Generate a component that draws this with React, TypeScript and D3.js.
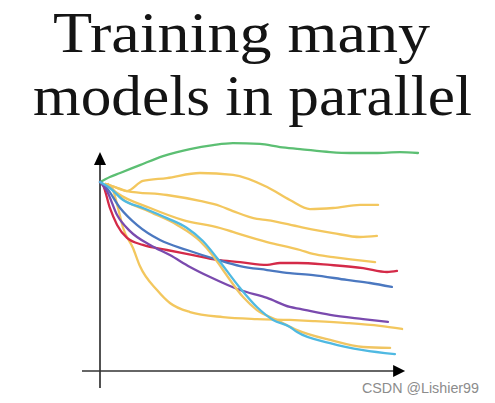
import { useEffect, useRef } from 'react';
// @ts-expect-error -- d3 has no type declarations here
import * as d3 from 'd3';

const WIDTH = 495;
const HEIGHT = 403;

const TITLE_LINES = ['Training many', 'models in parallel'];
const WATERMARK = 'CSDN @Lishier99';

// Cost curves, [epoch, cost] pairs
const greenModel: [number, number][] = [
  [0, 85.9], [3.3, 88.2], [6.7, 90], [13.3, 93.6], [21, 97.7], [30, 100.9], [37.7, 102.7],
  [44.3, 103.6], [53.3, 103.2], [60, 101.8], [66.7, 100.9], [76.7, 99.5], [83.3, 99.1],
  [91.7, 99.1], [100, 99.5], [106, 99.1],
];
const yellowModelA: [number, number][] = [
  [2, 85], [4, 84.1], [9, 81.8], [14.3, 86.4], [22.3, 87.7], [33.3, 90], [44.3, 89.1],
  [55.7, 83.6], [63.3, 77.7], [70, 73.6], [77.7, 74.1], [86.7, 75.5], [92.7, 75.5],
];
const yellowModelB: [number, number][] = [
  [2, 85], [4, 84.1], [9, 81.8], [22.3, 80], [33.3, 77.3], [40, 75], [44.3, 72.7],
  [52.3, 69.1], [55.7, 68.6], [66.7, 65.5], [77.7, 62.7], [86.7, 60.9], [92.3, 61.4],
];
const yellowModelC: [number, number][] = [
  [2, 85], [5.7, 80.9], [16.7, 74.1], [27.7, 68.6], [40, 65], [44.3, 63.2], [55.7, 58.6],
  [66.7, 55], [71, 53.2], [77.7, 51.8], [91.7, 49.5],
];
const yellowModelD: [number, number][] = [
  [2, 85], [4, 83.2], [6, 74.1], [7.7, 65], [11, 55.9], [13.3, 47.7], [19, 36.8], [23.3, 30.9],
  [30, 26.8], [41, 24.5], [52.3, 23.6], [63.3, 23.2], [71, 22.7], [82.3, 21.8], [93.3, 20.5],
  [100.7, 19.1],
];
const yellowModelE: [number, number][] = [
  [2.7, 85], [6.7, 79.1], [16.7, 72.3], [25.7, 66.4], [33.3, 59.1], [37.7, 52.3], [41, 45.9],
  [47.7, 33.6], [52.3, 27.7], [59, 23.2], [65.7, 18.6], [76.7, 14.1], [87.7, 10.9], [96.7, 10.5],
];
const redModel: [number, number][] = [
  [0, 85.9], [1, 84.5], [3.3, 74.1], [5.7, 66.4], [9, 60.5], [14.3, 57.3], [22.3, 55], [31, 52.7],
  [39, 50.5], [46.7, 49.5], [55.7, 48.2], [60, 49.1], [65.7, 49.1], [76.7, 48.2], [87.7, 46.8],
  [95.7, 45], [99, 45.5],
];
const blueModel: [number, number][] = [
  [0, 85.9], [1.7, 84.1], [6.7, 74.1], [12.3, 66.4], [20, 59.5], [29, 55], [39.3, 50.5],
  [46.7, 47.7], [55.7, 45.9], [63.3, 44.5], [71, 43.6], [82.3, 41.4], [90, 40], [97.3, 38.2],
];
const purpleModel: [number, number][] = [
  [0, 85.9], [2.3, 81.8], [5.7, 70.9], [10, 63.6], [16.7, 57.3], [23.3, 52.7], [30, 47.3],
  [36.7, 42.7], [46.7, 36.8], [55.7, 33.2], [63.3, 29.1], [66.7, 28.2], [76.7, 25.5],
  [87.7, 23.6], [96, 22.3],
];
const cyanModel: [number, number][] = [
  [0, 85.9], [3.3, 83.2], [7.7, 77.7], [14.3, 74.1], [22.3, 69.5], [29, 65], [34.3, 59.1],
  [39, 51.4], [46.7, 37.7], [52.3, 29.1], [57.7, 23.2], [63.3, 20], [65.7, 17.7], [76.7, 12.7],
  [87.7, 9.5], [98.3, 7.7],
];

// Draw order: back to front
const MODELS = [
  { key: 'yellowA', points: yellowModelA },
  { key: 'yellowB', points: yellowModelB },
  { key: 'yellowC', points: yellowModelC },
  { key: 'yellowD', points: yellowModelD },
  { key: 'green', points: greenModel },
  { key: 'red', points: redModel },
  { key: 'blue', points: blueModel },
  { key: 'purple', points: purpleModel },
  { key: 'yellowE', points: yellowModelE },
  { key: 'cyan', points: cyanModel },
];

const COLORS: Record<string, string> = {
  green: '#5cbf73',
  yellowA: '#f3c75e',
  yellowB: '#f3c75e',
  yellowC: '#f3c75e',
  yellowD: '#f3c75e',
  yellowE: '#f0c562',
  red: '#d42a48',
  blue: '#4b78c0',
  purple: '#7a4aae',
  cyan: '#4fb9e2',
};

export default function App() {
  const svgRef = useRef<SVGSVGElement>(null);

  useEffect(() => {
    if (!svgRef.current) return;
    const svg = d3.select(svgRef.current);
    svg.selectAll('*').remove();

    const x = d3.scaleLinear().domain([0, 100]).range([100, 400]);
    const y = d3.scaleLinear().domain([0, 100]).range([371, 151]);

    svg.append('rect').attr('width', WIDTH).attr('height', HEIGHT).attr('fill', '#ffffff');

    // Title, two centred lines in a book serif
    const titleLayout = [
      { x: 53, y: 52, len: 377 },
      { x: 33, y: 115, len: 439 },
    ];
    TITLE_LINES.forEach((line, i) => {
      svg
        .append('text')
        .attr('x', titleLayout[i].x)
        .attr('y', titleLayout[i].y)
        .attr('font-family', '"Liberation Serif", "Times New Roman", serif')
        .attr('font-size', '56px')
        .attr('fill', '#141414')
        .attr('textLength', titleLayout[i].len)
        .attr('lengthAdjust', 'spacingAndGlyphs')
        .text(line);
    });

    // Axes with arrow heads
    const axisColor = '#333333';
    const x0 = x(0);
    const y0 = y(0);
    svg
      .append('line')
      .attr('x1', x0)
      .attr('x2', x0)
      .attr('y1', y0 + 17)
      .attr('y2', y(100) + 14)
      .attr('stroke', axisColor)
      .attr('stroke-width', 1.7);
    svg
      .append('path')
      .attr('d', `M${x0},${y(100) + 1} L${x0 - 6},${y(100) + 14} L${x0 + 6},${y(100) + 14} Z`)
      .attr('fill', '#000');
    svg
      .append('line')
      .attr('x1', x0 - 18)
      .attr('x2', x(98))
      .attr('y1', y0)
      .attr('y2', y0)
      .attr('stroke', axisColor)
      .attr('stroke-width', 1.7);
    svg
      .append('path')
      .attr('d', `M${x(101.7)},${y0} L${x(97.7)},${y0 - 6} L${x(97.7)},${y0 + 6} Z`)
      .attr('fill', '#000');

    // Model curves
    const line = d3
      .line()
      .x((d: [number, number]) => x(d[0]))
      .y((d: [number, number]) => y(d[1]))
      .curve(d3.curveMonotoneX);

    MODELS.forEach(m => {
      svg
        .append('path')
        .attr('d', line(m.points))
        .attr('fill', 'none')
        .attr('stroke', COLORS[m.key])
        .attr('stroke-width', 2.3)
        .attr('stroke-linecap', 'round')
        .attr('stroke-linejoin', 'round');
    });

    // Watermark
    svg
      .append('text')
      .attr('x', 362)
      .attr('y', 393)
      .attr('font-family', '"Liberation Sans", Arial, sans-serif')
      .attr('font-size', '14px')
      .attr('fill', '#8c8c8c')
      .attr('textLength', 117)
      .attr('lengthAdjust', 'spacingAndGlyphs')
      .text(WATERMARK);
  }, []);

  return (
    <svg
      ref={svgRef}
      width={WIDTH}
      height={HEIGHT}
      style={{ position: 'absolute', left: 0, top: 0, display: 'block' }}
    />
  );
}
